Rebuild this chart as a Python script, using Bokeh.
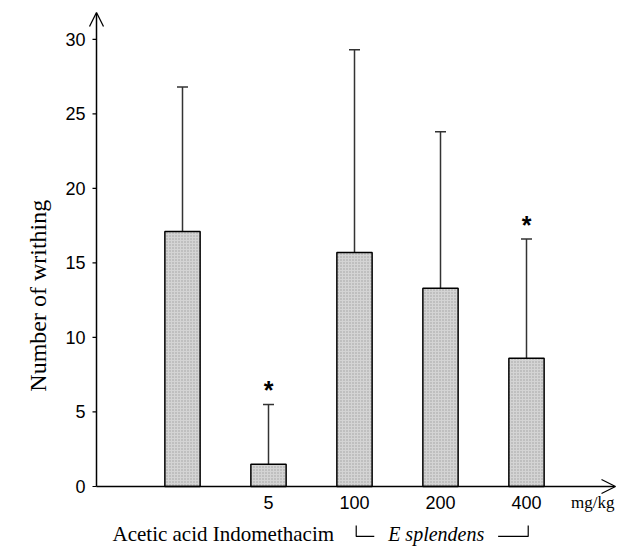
import math
from bokeh.plotting import figure
from bokeh.models import Range1d, Whisker, TeeHead, Arrow, OpenHead, ColumnDataSource
from bokeh.core.properties import value
from bokeh.embed import file_html
from bokeh.resources import INLINE

# data
groups = ["Acetic acid", "Indomethacim", "E splendens 100", "E splendens 200", "E splendens 400"]
dose_labels = ["", "5", "100", "200", "400"]
means = [17.1, 1.5, 15.7, 13.3, 8.6]
sds = [9.7, 4.0, 13.6, 10.5, 8.0]
significant = [False, True, False, False, True]
y_ticks = [0, 5, 10, 15, 20, 25, 30]
y_tick_labels = ["0", "5", "10", "15", "20", "25", "30"]

xpos = list(range(1, len(means) + 1))
uppers = [m + s for m, s in zip(means, sds)]

# scales: 86 px per category, 14.906 px per writhing unit; origin at (96, 486)
p = figure(width=621, height=549, output_backend="svg", toolbar_location=None,
           x_range=Range1d(-96 / 86, (621 - 96) / 86),
           y_range=Range1d(-63 / 14.906, 486 / 14.906),
           min_border_left=0, min_border_right=0, min_border_top=0, min_border_bottom=0)
p.xaxis.visible = False
p.yaxis.visible = False
p.xgrid.visible = False
p.ygrid.visible = False
p.outline_line_color = None
p.background_fill_color = "white"

# bars
src = ColumnDataSource(dict(x=xpos, top=means, upper=uppers))
p.vbar(x="x", top="top", width=0.41, source=src, fill_color="#d4d4d4",
       hatch_pattern=".", hatch_scale=3, hatch_color="#7a7a7a", hatch_alpha=0.6,
       line_color="black", line_width=1.5)

# error bars (upper only)
p.add_layout(Whisker(source=src, base="x", lower="top", upper="upper",
                     line_color="#333333", line_width=1.5,
                     upper_head=TeeHead(size=11, line_color="#333333", line_width=1.5),
                     lower_head=None))

# asterisks
sx = [x for x, s in zip(xpos, significant) if s]
sy = [u + 0.95 for u, s in zip(uppers, significant) if s]
p.text(x=sx, y=sy, text=["*"] * len(sx), text_font=value("Liberation Sans"),
       text_font_style="bold", text_font_size="25px", text_align="center",
       text_baseline="middle", text_color="black")

# axes lines with open arrow heads
p.add_layout(Arrow(end=OpenHead(size=14, line_width=1.3), x_start=0, y_start=0,
                   x_end=6.035, y_end=0, line_width=1.5, line_color="black"))
p.add_layout(Arrow(end=OpenHead(size=14, line_width=1.3), x_start=0, y_start=0,
                   x_end=0, y_end=31.8, line_width=1.5, line_color="black"))

# y ticks and tick labels
p.segment(x0=[-4 / 86] * len(y_ticks), y0=y_ticks, x1=[0] * len(y_ticks), y1=y_ticks,
          line_color="black", line_width=1.2)
p.text(x=[-11 / 86] * len(y_ticks), y=y_ticks, text=y_tick_labels,
       text_font=value("Liberation Sans"), text_font_size="18px", text_align="right",
       text_baseline="middle", text_color="black")
p.text(x=[-0.68], y=[12.8], text=["Number of writhing"], angle=math.pi / 2,
       text_font=value("Liberation Serif"), text_font_size="24px", text_align="center",
       text_baseline="middle", text_color="black")

# category/dose labels
p.text(x=xpos, y=[-1.07] * len(xpos), text=dose_labels, text_font=value("Liberation Sans"),
       text_font_size="18px", text_align="center", text_baseline="middle", text_color="black")
p.text(x=[5.77], y=[-1.07], text=["mg/kg"], text_font=value("Liberation Serif"),
       text_font_size="17px", text_align="center", text_baseline="middle", text_color="black")
p.text(x=[0.186], y=[-3.22], text=["Acetic acid Indomethacim"], text_font=value("Liberation Serif"),
       text_font_size="21px", text_align="left", text_baseline="middle", text_color="black")
p.text(x=[3.95], y=[-3.22], text=["E splendens"], text_font=value("Liberation Serif"),
       text_font_style="italic", text_font_size="20px", text_align="center",
       text_baseline="middle", text_color="black")
p.multi_line(xs=[[3.02, 3.02, 3.23], [4.67, 5.02, 5.02]],
             ys=[[-2.62, -3.35, -3.35], [-3.35, -3.35, -2.62]],
             line_color="black", line_width=1.2)

open("out.html", "w").write(file_html(p, INLINE))
